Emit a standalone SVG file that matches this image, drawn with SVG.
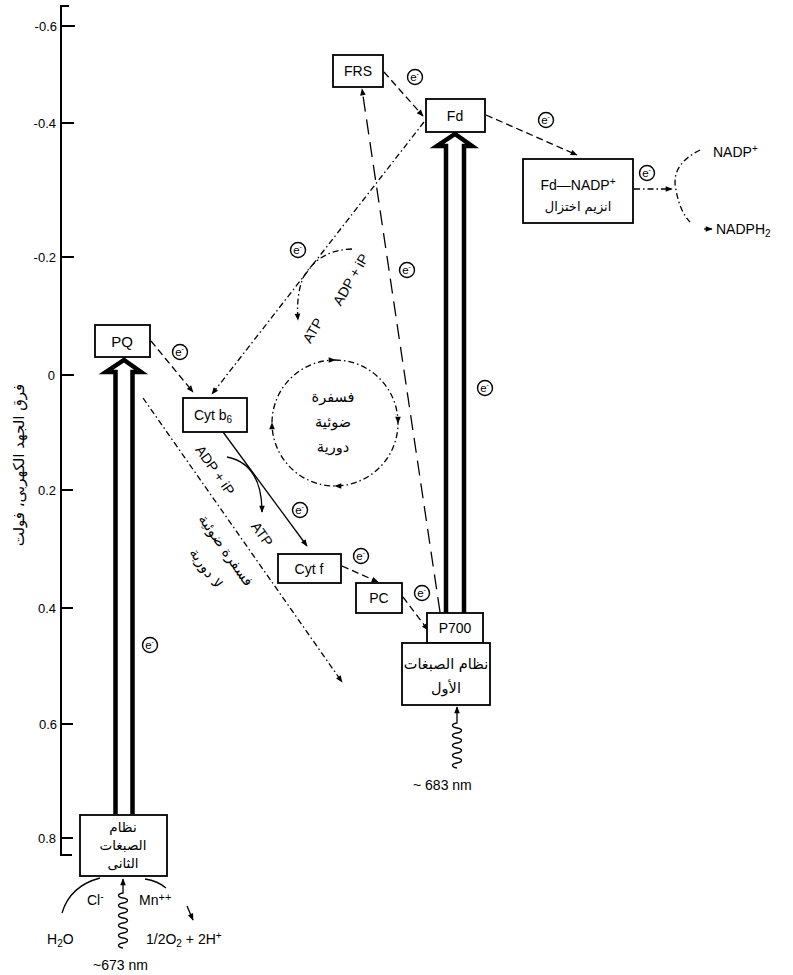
<svg xmlns="http://www.w3.org/2000/svg" xmlns:xlink="http://www.w3.org/1999/xlink" width="793" height="975" viewBox="0 0 793 975">
<style>
text{font-family:"Liberation Sans","DejaVu Sans",sans-serif;fill:#000}
.ar{font-family:"DejaVu Sans",sans-serif}
.lab{font-size:14px}
.tick{font-size:13px;text-anchor:end}
.box{fill:#fff;stroke:#000;stroke-width:1.8}
.ln{fill:none;stroke:#000;stroke-width:1.3}
.dash{stroke-dasharray:7 4}
.dd{stroke-dasharray:6 3 1.5 3}
.long{stroke-dasharray:15 8}
.col{fill:#fff;stroke:#000;stroke-width:4.5}
.c{text-anchor:middle}
</style>
<defs>
<marker id="ah" viewBox="0 0 10 10" refX="9" refY="5" markerWidth="9" markerHeight="7" markerUnits="userSpaceOnUse" orient="auto"><path d="M0,1 L10,5 L0,9 z" fill="#000"/></marker>
<g id="e"><circle cx="0" cy="0" r="7.5" fill="#fff" stroke="#000" stroke-width="1.4"/><text x="-0.5" y="4" font-size="11.5" text-anchor="middle">e<tspan font-size="7" dy="-5">-</tspan></text></g>
</defs>

<g id="axis">
<path d="M69,6 H61 V855 H72" fill="none" stroke="#000" stroke-width="2"/>
<path d="M61,26 H75 M61,123 H74 M61,257 H74 M61,375 H74 M61,490 H73 M61,608 H73 M61,724 H73 M61,838 H73" stroke="#000" stroke-width="1.8"/>
<text class="tick" x="57" y="31">-0.6</text>
<text class="tick" x="56" y="128">-0.4</text>
<text class="tick" x="56" y="262">-0.2</text>
<text class="tick" x="55" y="380">0</text>
<text class="tick" x="56" y="495">0.2</text>
<text class="tick" x="56" y="613">0.4</text>
<text class="tick" x="57" y="729">0.6</text>
<text class="tick" x="56" y="843">0.8</text>
<text class="ar c" font-size="15" transform="translate(24,465) rotate(-90)">فرق الجهد الكهربى، فولت</text>
</g>

<g id="connectors">
<path class="ln dash" d="M151,341 L193,392" marker-end="url(#ah)"/>
<path class="ln dd" d="M424,122 L212,394" marker-end="url(#ah)"/>
<path class="ln dash" d="M384,72 L423,116" marker-end="url(#ah)"/>
<path class="ln long" d="M440,612 L362,89" marker-end="url(#ah)"/>
<path class="ln dash" d="M486,115 L577,155" marker-end="url(#ah)"/>
<path class="ln dd" d="M634,189 L672,189" marker-end="url(#ah)"/>
<path class="ln dd" d="M700,150 Q670,165 676,190 Q680,212 690,222"/>
<path class="ln" d="M704,229 L712,229" marker-end="url(#ah)"/>
<path class="ln dd" d="M143,398 L342,682" marker-end="url(#ah)"/>
<path class="ln" d="M223,432 L307,546" marker-end="url(#ah)"/>
<path class="ln dash" d="M342,566 L378,582" marker-end="url(#ah)"/>
<path class="ln dash" d="M403,597 L428,630" marker-end="url(#ah)"/>
<path class="ln dd" d="M352,249 Q318,250 303,278 Q296,296 298,320" marker-end="url(#ah)"/>
<path class="ln" d="M227,457 Q262,464 262,512" marker-end="url(#ah)"/>
<path class="ln dd" d="M335,360 A63,63 0 0 1 398,423 A63,63 0 0 1 335,486 A63,63 0 0 1 272,423 A63,63 0 0 1 335,360" marker-start="url(#ah)" marker-mid="url(#ah)"/>
<path class="ln" d="M62,913 Q70,886 100,878"/>
<path class="ln" d="M145,879 Q158,881 166,888"/>
<path class="ln" d="M187,906 L193,920" marker-end="url(#ah)"/>
<path class="ln" d="M123,948 c-6,-1 -6,-4 0,-5 c6,-1 6,-4 0,-5 c-6,-1 -6,-4 0,-5 c6,-1 6,-4 0,-5 c-6,-1 -6,-4 0,-5 c6,-1 6,-4 0,-5 c-6,-1 -6,-4 0,-5 c6,-1 6,-4 0,-5 c-6,-1 -6,-4 0,-5 c6,-1 6,-4 0,-5 c-6,-1 -6,-4 0,-5 L123,879" marker-end="url(#ah)"/>
<path class="ln" d="M457,768 c-6,-1 -6,-4 0,-5 c6,-1 6,-4 0,-5 c-6,-1 -6,-4 0,-5 c6,-1 6,-4 0,-5 c-6,-1 -6,-4 0,-5 c6,-1 6,-4 0,-5 c-6,-1 -6,-4 0,-5 c6,-1 6,-4 0,-5 c-6,-1 -6,-4 0,-5 L457,707" marker-end="url(#ah)"/>
</g>

<g id="columns">
<path class="col" d="M115.5,814 V372 H106 L124,360 L141,372 H132.5 V814" stroke-linejoin="miter"/>
<path class="col" d="M446,613 V146 H437 L455,134 L472,146 H464 V613" stroke-linejoin="miter"/>
</g>

<g id="PQ"><rect class="box" x="95" y="325" width="55" height="32"/><text class="c" x="122" y="347" font-size="15">PQ</text></g>
<g id="PSII"><rect class="box" x="80" y="815" width="87" height="61"/>
<text class="ar c" x="123" y="832" font-size="13.5">نظام</text>
<text class="ar c" x="123" y="850" font-size="13.5">الصبغات</text>
<text class="ar c" x="123" y="868" font-size="13.5">الثانى</text></g>
<g id="CytB6"><rect class="box" x="183" y="398" width="64" height="34"/><text class="c lab" x="213" y="420">Cyt b<tspan font-size="10" dy="3">6</tspan></text></g>
<g id="CytF"><rect class="box" x="278" y="554" width="63" height="29"/><text class="c lab" x="309" y="574">Cyt f</text></g>
<g id="PC"><rect class="box" x="356" y="583" width="46" height="30"/><text class="c lab" x="379" y="603">PC</text></g>
<g id="P700"><rect class="box" x="427" y="613" width="56" height="30"/><text class="c lab" x="455" y="633">P700</text></g>
<g id="PSI"><rect class="box" x="402" y="643" width="88" height="62"/>
<text class="ar c" x="446" y="669" font-size="14.5">نظام الصبغات</text>
<text class="ar c" x="446" y="693" font-size="14.5">الأول</text></g>
<g id="FRS"><rect class="box" x="333" y="55" width="50" height="32"/><text class="c lab" x="358" y="76">FRS</text></g>
<g id="Fd"><rect class="box" x="426" y="99" width="59" height="33"/><text class="c lab" x="455" y="121">Fd</text></g>
<g id="FdNADP"><rect class="box" x="523" y="159" width="110" height="64"/>
<text class="c lab" x="578" y="190">Fd—NADP<tspan font-size="10" dy="-5">+</tspan></text>
<text class="ar c" x="578" y="211" font-size="13">انزيم اختزال</text></g>
<g id="NADP"><text class="lab" x="713" y="157">NADP<tspan font-size="10" dy="-5">+</tspan></text></g>
<g id="NADPH2"><text class="lab" x="716" y="234">NADPH<tspan font-size="10" dy="3">2</tspan></text></g>

<g id="cyclic-label">
<text class="ar c" x="333" y="402" font-size="14.5">فسفرة</text>
<text class="ar c" x="333" y="427" font-size="14.5">ضوئية</text>
<text class="ar c" x="333" y="452" font-size="14.5">دورية</text>
</g>
<g id="noncyclic-label">
<text class="ar c" font-size="14.5" transform="translate(222,553) rotate(55)">فسفرة ضوئية</text>
<text class="ar c" font-size="14.5" transform="translate(202,571) rotate(55)">لا دورية</text>
</g>
<g id="phos-labels">
<text class="lab c" transform="translate(355,282) rotate(-60)">ADP + iP</text>
<text class="lab c" transform="translate(317,333) rotate(-60)">ATP</text>
<text class="lab c" transform="translate(211,473) rotate(55)">ADP + iP</text>
<text class="lab c" transform="translate(258,537) rotate(55)">ATP</text>
</g>

<g id="psii-inputs">
<text class="lab" x="87" y="905">Cl<tspan font-size="10" dy="-5">-</tspan></text>
<text class="lab" x="139" y="905">Mn<tspan font-size="11" dy="-4">++</tspan></text>
<text class="lab" x="47" y="944">H<tspan font-size="10" dy="3">2</tspan><tspan dy="-3">O</tspan></text>
<text class="lab" x="146" y="944">1/2O<tspan font-size="10" dy="3">2</tspan><tspan dy="-3"> + 2H</tspan><tspan font-size="10" dy="-5">+</tspan></text>
<text class="lab" x="93" y="970">~673 nm</text>
<text class="lab" x="413" y="790">~ 683 nm</text>
</g>

<g id="electrons">
<use xlink:href="#e" x="180" y="352"/>
<use xlink:href="#e" x="415" y="77"/>
<use xlink:href="#e" x="546" y="120"/>
<use xlink:href="#e" x="647" y="173"/>
<use xlink:href="#e" x="485" y="388"/>
<use xlink:href="#e" x="407" y="270"/>
<use xlink:href="#e" x="298" y="250"/>
<use xlink:href="#e" x="300" y="510"/>
<use xlink:href="#e" x="361" y="556"/>
<use xlink:href="#e" x="422" y="593"/>
<use xlink:href="#e" x="150" y="645"/>
</g>
</svg>
